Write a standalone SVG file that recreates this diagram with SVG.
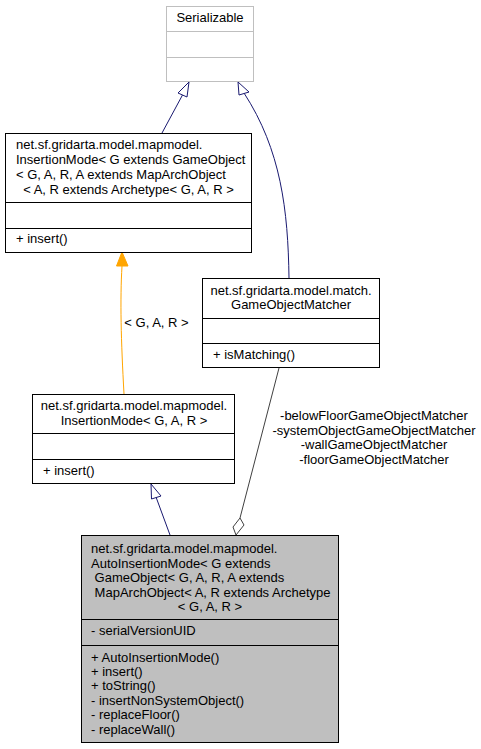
<svg xmlns="http://www.w3.org/2000/svg" width="481" height="749" viewBox="0 0 481 749">
<style>
text{font-family:"Liberation Sans",Arial,sans-serif;font-size:13px;fill:#000}
.m{text-anchor:middle}
.box{fill:#fff;stroke:#000;stroke-width:1}
.gray{fill:#fff;stroke:#bfbfbf;stroke-width:1}
.sel{fill:#bfbfbf;stroke:#000;stroke-width:1}
.nav{fill:none;stroke:#191970;stroke-width:1}
.navh{fill:#fff;stroke:#191970;stroke-width:1}
.org{fill:none;stroke:#ffa500;stroke-width:1}
.agg{fill:none;stroke:#404040;stroke-width:1}
</style>
<rect width="481" height="749" fill="#fff"/>
<g id="edges">
  <path class="nav" d="M162,133 L182.5,95"/>
  <polygon class="navh" points="189,82 178,93 187,97"/>
  <path class="nav" d="M289,278 C288,210 281,150 244,93"/>
  <polygon class="navh" points="238,82 239,95 249,92"/>
  <path class="org" d="M124,394 C121,340 120,300 122,266"/>
  <polygon points="122,252 116.5,266 128,266" fill="#ffa500" stroke="#ffa500"/>
  <text class="m" x="156.5" y="327">&lt; G, A, R &gt;</text>
  <path class="nav" d="M170,535 L156,497"/>
  <polygon class="navh" points="151,484 151.5,499 161,496"/>
  <path class="agg" d="M279,368 L240,518"/>
  <polygon points="236,535 244,525 240,518 233,527" fill="#fff" stroke="#404040"/>
  <text class="m" x="374" y="420">-belowFloorGameObjectMatcher</text>
  <text class="m" x="374" y="434.6">-systemObjectGameObjectMatcher</text>
  <text class="m" x="374" y="449.2">-wallGameObjectMatcher</text>
  <text class="m" x="374" y="463.8">-floorGameObjectMatcher</text>
</g>
<g id="Serializable">
  <rect class="gray" x="166.5" y="6.5" width="87" height="75"/>
  <line x1="166.5" y1="31.5" x2="253.5" y2="31.5" stroke="#bfbfbf"/>
  <line x1="166.5" y1="57.5" x2="253.5" y2="57.5" stroke="#bfbfbf"/>
  <text class="m" x="210" y="22">Serializable</text>
</g>
<g id="InsertionModeFull">
  <rect class="box" x="5.5" y="133.5" width="246" height="119"/>
  <line x1="5.5" y1="202.5" x2="251.5" y2="202.5" stroke="#000"/>
  <line x1="5.5" y1="228.5" x2="251.5" y2="228.5" stroke="#000"/>
  <text x="16" y="148.5">net.sf.gridarta.model.mapmodel.</text>
  <text x="16" y="163.5">InsertionMode&lt; G extends GameObject</text>
  <text x="16" y="178.5">&lt; G, A, R, A extends MapArchObject</text>
  <text class="m" x="128.5" y="193.5">&lt; A, R extends Archetype&lt; G, A, R &gt;</text>
  <text x="16" y="242.5">+ insert()</text>
</g>
<g id="GameObjectMatcher">
  <rect class="box" x="202.5" y="278.5" width="177" height="89"/>
  <line x1="202.5" y1="318.5" x2="379.5" y2="318.5" stroke="#000"/>
  <line x1="202.5" y1="343.5" x2="379.5" y2="343.5" stroke="#000"/>
  <text class="m" x="291" y="294.5">net.sf.gridarta.model.match.</text>
  <text class="m" x="291" y="309">GameObjectMatcher</text>
  <text x="213" y="359">+ isMatching()</text>
</g>
<g id="InsertionModeGAR">
  <rect class="box" x="32.5" y="394.5" width="202" height="89"/>
  <line x1="32.5" y1="433.5" x2="234.5" y2="433.5" stroke="#000"/>
  <line x1="32.5" y1="459.5" x2="234.5" y2="459.5" stroke="#000"/>
  <text class="m" x="134" y="410">net.sf.gridarta.model.mapmodel.</text>
  <text class="m" x="134" y="425">InsertionMode&lt; G, A, R &gt;</text>
  <text x="43" y="475">+ insert()</text>
</g>
<g id="AutoInsertionMode">
  <rect class="sel" x="81.5" y="535.5" width="257" height="207"/>
  <line x1="81.5" y1="619.5" x2="338.5" y2="619.5" stroke="#000"/>
  <line x1="81.5" y1="645.5" x2="338.5" y2="645.5" stroke="#000"/>
  <text x="91" y="553">net.sf.gridarta.model.mapmodel.</text>
  <text x="91" y="567.5">AutoInsertionMode&lt; G extends</text>
  <text x="91" y="582" xml:space="preserve"> GameObject&lt; G, A, R, A extends</text>
  <text x="91" y="596.5" xml:space="preserve"> MapArchObject&lt; A, R extends Archetype</text>
  <text class="m" x="210" y="611">&lt; G, A, R &gt;</text>
  <text x="91" y="635">- serialVersionUID</text>
  <text x="91" y="661.5">+ AutoInsertionMode()</text>
  <text x="91" y="675.9">+ insert()</text>
  <text x="91" y="690.3">+ toString()</text>
  <text x="91" y="704.7">- insertNonSystemObject()</text>
  <text x="91" y="719.1">- replaceFloor()</text>
  <text x="91" y="733.5">- replaceWall()</text>
</g>
</svg>
